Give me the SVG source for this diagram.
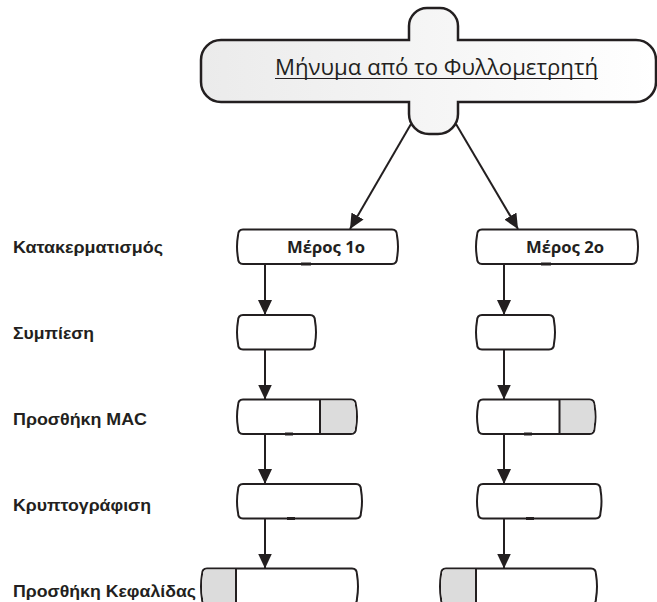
<svg xmlns="http://www.w3.org/2000/svg" width="657" height="602" viewBox="0 0 657 602">
  <defs>
    <linearGradient id="msgFill" x1="0" y1="0" x2="1" y2="0">
      <stop offset="0" stop-color="#ebebeb"/>
      <stop offset="1" stop-color="#ffffff"/>
    </linearGradient>
    <marker id="arrow" markerUnits="userSpaceOnUse" markerWidth="15" markerHeight="14" refX="15" refY="7" orient="auto">
      <path d="M0,0 L15,7 L0,14 Z" fill="#231f20"/>
    </marker>
    <style>
      .box { fill: #ffffff; stroke: #231f20; stroke-width: 2; }
      .cell { fill: #dcdcdc; stroke: none; }
      .sep { stroke: #231f20; stroke-width: 2; }
      .edge { fill: none; stroke: #231f20; stroke-width: 2; marker-end: url(#arrow); }
      .tick { stroke: #231f20; stroke-width: 3; }
      .step { font-family: "Liberation Sans", Arial, sans-serif; font-weight: bold; font-size: 16px; fill: #231f20; }
      .part { font-family: "Open Sans", "DejaVu Sans", sans-serif; font-weight: bold; font-size: 16.5px; fill: #231f20; }
      .title { font-family: "Open Sans", "DejaVu Sans", sans-serif; font-weight: 400; font-size: 22px; fill: #231f20; }
    </style>
  </defs>

  <!-- message source -->
  <g id="message">
    <path d="M409,40 V26 A18,18 0 0 1 427,8 H440 A18,18 0 0 1 458,26 V40 H636 A20,20 0 0 1 656,60 V82 A20,20 0 0 1 636,102 H458 V114 A20,20 0 0 1 438,134 H429 A20,20 0 0 1 409,114 V102 H221 A20,20 0 0 1 201,82 V60 A20,20 0 0 1 221,40 Z" fill="url(#msgFill)" stroke="#231f20" stroke-width="2.5"/>
    <text class="title" x="275" y="75" textLength="323" lengthAdjust="spacingAndGlyphs">Μήνυμα από το Φυλλομετρητή</text>
    <line x1="275" y1="78.5" x2="598" y2="78.5" stroke="#231f20" stroke-width="1.2"/>
  </g>

  <!-- step labels -->
  <g id="labels">
    <text class="step" x="13" y="252.5" textLength="150" lengthAdjust="spacingAndGlyphs">Κατακερματισμός</text>
    <text class="step" x="13" y="338.5" textLength="81" lengthAdjust="spacingAndGlyphs">Συμπίεση</text>
    <text class="step" x="13" y="424.5" textLength="134" lengthAdjust="spacingAndGlyphs">Προσθήκη MAC</text>
    <text class="step" x="13" y="510.5" textLength="138" lengthAdjust="spacingAndGlyphs">Κρυπτογράφιση</text>
    <text class="step" x="13" y="596.5" textLength="183" lengthAdjust="spacingAndGlyphs">Προσθήκη Κεφαλίδας</text>
  </g>

  <!-- part 1 column -->
  <g id="part1-hash">
    <path class="box" d="M243,229.5 H392 Q397,229.5 397,235.5 Q399,246.75 397,258 Q397,264 392,264 H243 Q238,264 238,258 Q236,246.75 238,235.5 Q238,229.5 243,229.5 Z"/>
    <text class="part" x="287" y="252.5" textLength="78" lengthAdjust="spacingAndGlyphs">Μέρος 1ο</text>
    <line class="tick" x1="301" y1="264" x2="311" y2="264"/>
  </g>
  <g id="part1-compress">
    <path class="box" d="M243,315 H310 Q315,315 315,321 Q317,332.25 315,343.5 Q315,349.5 310,349.5 H243 Q238,349.5 238,343.5 Q236,332.25 238,321 Q238,315 243,315 Z"/>
  </g>
  <g id="part1-mac">
    <path class="box" d="M243,399.5 H351 Q356,399.5 356,405.5 Q358,416.75 356,428 Q356,434 351,434 H243 Q238,434 238,428 Q236,416.75 238,405.5 Q238,399.5 243,399.5 Z"/>
    <path class="cell" d="M320,400.5 H351 Q355,400.5 355,405.5 Q357,416.75 355,428 Q355,433 351,433 H320 Z"/>
    <line class="sep" x1="320" y1="399.5" x2="320" y2="434"/>
    <line class="tick" x1="285" y1="434" x2="293" y2="434"/>
  </g>
  <g id="part1-encrypt">
    <path class="box" d="M243,484 H356 Q361,484 361,490 Q363,501.25 361,512.5 Q361,518.5 356,518.5 H243 Q238,518.5 238,512.5 Q236,501.25 238,490 Q238,484 243,484 Z"/>
    <line class="tick" x1="287" y1="518.5" x2="295" y2="518.5"/>
  </g>
  <g id="part1-header">
    <path class="box" d="M207,568.5 H352 Q357,568.5 357,574.5 Q359,586.5 357,598.5 Q357,604.5 352,604.5 H207 Q202,604.5 202,598.5 Q200,586.5 202,574.5 Q202,568.5 207,568.5 Z"/>
    <path class="cell" d="M236,569.5 H207 Q203,569.5 203,574.5 Q201,586.5 203,598.5 Q203,603.5 207,603.5 H236 Z"/>
    <line class="sep" x1="236" y1="568.5" x2="236" y2="604.5"/>
  </g>

  <!-- part 2 column -->
  <g id="part2-hash">
    <path class="box" d="M482,229.5 H632 Q637,229.5 637,235.5 Q639,246.75 637,258 Q637,264 632,264 H482 Q477,264 477,258 Q475,246.75 477,235.5 Q477,229.5 482,229.5 Z"/>
    <text class="part" x="526" y="252.5" textLength="78" lengthAdjust="spacingAndGlyphs">Μέρος 2ο</text>
    <line class="tick" x1="541" y1="264" x2="551" y2="264"/>
  </g>
  <g id="part2-compress">
    <path class="box" d="M482,315 H549 Q554,315 554,321 Q556,332.25 554,343.5 Q554,349.5 549,349.5 H482 Q477,349.5 477,343.5 Q475,332.25 477,321 Q477,315 482,315 Z"/>
  </g>
  <g id="part2-mac">
    <path class="box" d="M483,399.5 H589.5 Q594.5,399.5 594.5,405.5 Q596.5,416.75 594.5,428 Q594.5,434 589.5,434 H483 Q478,434 478,428 Q476,416.75 478,405.5 Q478,399.5 483,399.5 Z"/>
    <path class="cell" d="M559.5,400.5 H589.5 Q593.5,400.5 593.5,405.5 Q595.5,416.75 593.5,428 Q593.5,433 589.5,433 H559.5 Z"/>
    <line class="sep" x1="559.5" y1="399.5" x2="559.5" y2="434"/>
    <line class="tick" x1="524" y1="434" x2="532" y2="434"/>
  </g>
  <g id="part2-encrypt">
    <path class="box" d="M483,484 H595.5 Q600.5,484 600.5,490 Q602.5,501.25 600.5,512.5 Q600.5,518.5 595.5,518.5 H483 Q478,518.5 478,512.5 Q476,501.25 478,490 Q478,484 483,484 Z"/>
    <line class="tick" x1="526" y1="518.5" x2="534" y2="518.5"/>
  </g>
  <g id="part2-header">
    <path class="box" d="M446,568.5 H591 Q596,568.5 596,574.5 Q598,586.5 596,598.5 Q596,604.5 591,604.5 H446 Q441,604.5 441,598.5 Q439,586.5 441,574.5 Q441,568.5 446,568.5 Z"/>
    <path class="cell" d="M476,569.5 H446 Q442,569.5 442,574.5 Q440,586.5 442,598.5 Q442,603.5 446,603.5 H476 Z"/>
    <line class="sep" x1="476" y1="568.5" x2="476" y2="604.5"/>
  </g>

  <!-- connectors -->
  <g id="connectors">
    <line class="edge" x1="411" y1="124" x2="350" y2="229"/>
    <line class="edge" x1="456" y1="124" x2="518" y2="229"/>
    <line class="edge" x1="265" y1="264" x2="265" y2="315"/>
    <line class="edge" x1="265" y1="349.5" x2="265" y2="399.5"/>
    <line class="edge" x1="265" y1="434" x2="265" y2="484"/>
    <line class="edge" x1="265" y1="518.5" x2="265" y2="568.5"/>
    <line class="edge" x1="504" y1="264" x2="504" y2="315"/>
    <line class="edge" x1="504" y1="349.5" x2="504" y2="399.5"/>
    <line class="edge" x1="504" y1="434" x2="504" y2="484"/>
    <line class="edge" x1="504" y1="518.5" x2="504" y2="568.5"/>
  </g>
</svg>
